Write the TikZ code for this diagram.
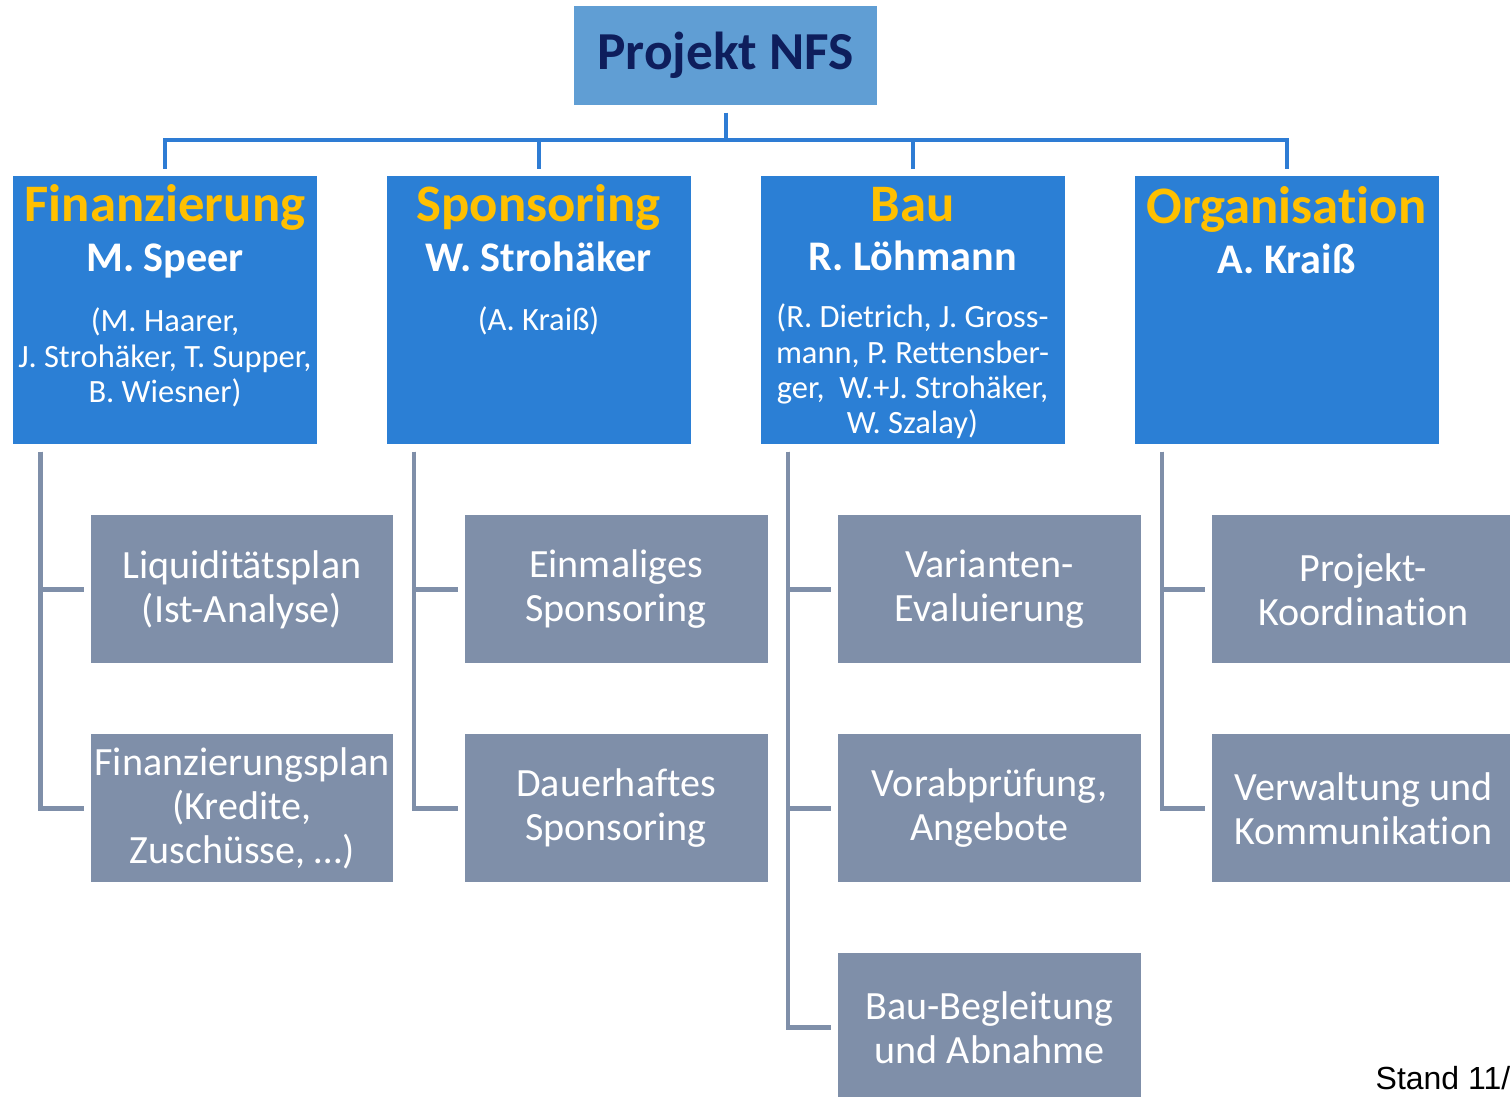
\documentclass[tikz,border=0pt]{standalone}
\usepackage{fontspec}
\setmainfont{Carlito}[Ligatures=CommonOff]
\newfontfamily\standfont{Liberation Sans}
\usetikzlibrary{positioning}
\frenchspacing
\definecolor{topblue}{RGB}{96,158,212}
\definecolor{navytext}{RGB}{14,30,92}
\definecolor{leadblue}{RGB}{43,127,213}
\definecolor{lineblue}{RGB}{46,124,212}
\definecolor{headorange}{RGB}{255,192,0}
\definecolor{taskgrey}{RGB}{127,143,169}

\begin{document}
\begin{tikzpicture}[x=0.1mm, y=-0.1mm]
\tikzset{lead/.style = {fill=leadblue, minimum width=30.4mm, minimum height=26.8mm, inner sep=0pt}}
\tikzset{task/.style = {fill=taskgrey, minimum width=30.3mm, minimum height=14.8mm, inner sep=0pt, text=white, align=center, font=\fontsize{11.4}{12.5}\selectfont}}
\tikzset{head/.style = {anchor=base, inner sep=0pt, text=headorange, font=\bfseries\fontsize{15}{18}\selectfont}}
\tikzset{boss/.style = {anchor=base, inner sep=0pt, text=white, font=\bfseries\fontsize{12}{14}\selectfont}}
\tikzset{crew/.style = {anchor=base, inner sep=0pt, text=white, text width=34mm, align=flush center, font=\fontsize{9.25}{10}\selectfont}}
\tikzset{topline/.style = {draw=lineblue, line width=0.4mm}}
\tikzset{subline/.style = {draw=taskgrey, line width=0.45mm, shorten >=0.6mm}}

\useasboundingbox (0,0) rectangle (1510,1097);

% project
\node[fill=topblue, minimum width=30.3mm, minimum height=9.9mm, text=navytext, font=\bfseries\fontsize{15.2}{18}\selectfont] (nfs) at (725.5,55.5) {Projekt NFS};

% teams
\node[lead] (fin) at (165,310) {};
\node[head] (fin-h) at (165,222) {Finanzierung};
\node[boss] (fin-b) at (165,272) {M. Speer};
\node[crew] (fin-c) at (165,332) {(M. Haarer,\\J. Strohäker, T. Supper,\\B. Wiesner)};

\node[lead] (spo) at (538.5,310) {};
\node[head] (spo-h) at (538.5,222) {Sponsoring};
\node[boss] (spo-b) at (538.5,272) {W. Strohäker};
\node[crew] (spo-c) at (538.5,331) {(A. Kraiß)};

\node[lead] (bau) at (912.5,310) {};
\node[head] (bau-h) at (912.5,222) {Bau};
\node[boss] (bau-b) at (912.5,271) {R. Löhmann};
\node[crew] (bau-c) at (912.5,328) {(R. Dietrich, J. Gross-\\mann, P. Rettensber-\\ger,~ W.+J. Strohäker,\\W. Szalay)};

\node[lead] (org) at (1286.5,310) {};
\node[head] (org-h) at (1286.5,224) {Organisation};
\node[boss] (org-b) at (1286.5,274) {A. Kraiß};

% tasks
\node[task] (liq) at (242,589.5) {Liquiditätsplan\\(Ist-Analyse)};
\node[task] (fplan) at (242,808.5) {Finanzierungsplan\\(Kredite,\\Zuschüsse, …)};
\node[task] (einm) at (616,589.5) {Einmaliges\\Sponsoring};
\node[task] (dauer) at (616,808.5) {Dauerhaftes\\Sponsoring};
\node[task] (var) at (989.5,589.5) {Varianten-\\Evaluierung};
\node[task] (vorab) at (989.5,808.5) {Vorabprüfung,\\Angebote};
\node[task] (begl) at (989.5,1027.5) {Bau-Begleitung\\und Abnahme};
\node[task] (koord) at (1363.5,589.5) {Projekt-\\Koordination};
\node[task] (verw) at (1363.5,808.5) {Verwaltung und\\Kommunikation};

% blue tree
\coordinate (bar) at (725.5,140);
\draw[topline, shorten <=0.7mm] (nfs) -- (bar);
\draw[topline, shorten >=0.6mm] (bar) -| (fin);
\draw[topline, shorten >=0.6mm] (bar) -| (spo);
\draw[topline, shorten >=0.6mm] (bar) -| (bau);
\draw[topline, shorten >=0.6mm] (bar) -| (org);

% grey branches
\coordinate (fin-r) at ([xshift=2.8mm, yshift=-0.7mm]fin.south west);
\coordinate (spo-r) at ([xshift=2.8mm, yshift=-0.7mm]spo.south west);
\coordinate (bau-r) at ([xshift=2.8mm, yshift=-0.7mm]bau.south west);
\coordinate (org-r) at ([xshift=2.8mm, yshift=-0.7mm]org.south west);
\draw[subline] (fin-r) |- (liq);
\draw[subline] (fin-r) |- (fplan);
\draw[subline] (spo-r) |- (einm);
\draw[subline] (spo-r) |- (dauer);
\draw[subline] (bau-r) |- (var);
\draw[subline] (bau-r) |- (vorab);
\draw[subline] (bau-r) |- (begl);
\draw[subline] (org-r) |- (koord);
\draw[subline] (org-r) |- (verw);

\node[anchor=base west, inner sep=0pt, font=\standfont\fontsize{9.1}{11}\selectfont] (stand) at (1375,1090) {Stand 11/};
\end{tikzpicture}
\end{document}
